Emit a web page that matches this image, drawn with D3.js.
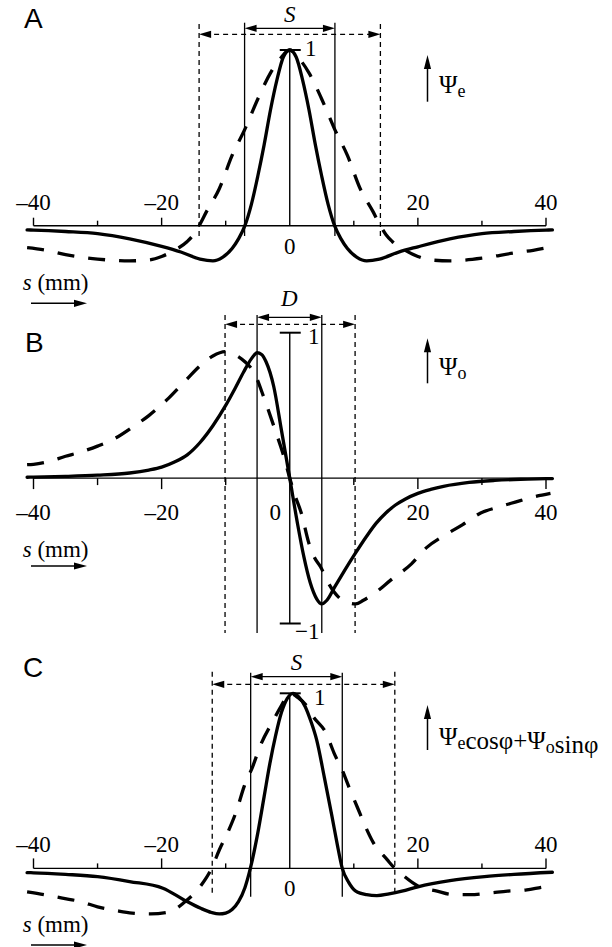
<!DOCTYPE html>
<html><head><meta charset="utf-8">
<script src="https://cdn.jsdelivr.net/npm/d3@7"></script>
<style>body{margin:0;background:#fff}svg{display:block}</style>
</head><body>
<script>
// ---------- data (s in mm, normalized response) ----------
const majorTicks = [-40, -20, 20, 40];
const tickLabels = ["\u201340", "\u201320", "20", "40"];
const minorTicks = [-30, -10, 10, 30];

// Panel A : even-symmetric
const aSolidS = [-41,-40,-35,-30,-25,-20,-17,-14,-12,-10.5,-9,-8,-7,-6,-5,-4,-3,-2,-1,0,1,2,3,4,5,6,7,8,9,10.5,12,14,17,20,25,30,35,40,41];
const aSolidV = [-0.024,-0.025,-0.033,-0.045,-0.075,-0.118,-0.15,-0.19,-0.2,-0.18,-0.13,-0.075,0,0.12,0.28,0.46,0.66,0.83,0.96,1,0.96,0.83,0.66,0.46,0.28,0.12,0,-0.075,-0.13,-0.18,-0.2,-0.19,-0.15,-0.12,-0.075,-0.045,-0.033,-0.025,-0.024];
const aDashS = [-41,-38,-35,-30,-25,-22,-20,-18,-16,-15,-14.15,-13,-11,-9,-7,-5,-3,-1.5,0,1.5,3,5,7,9,11,13,14.15,15,16,18,20,22,25,30,35,38,41];
const aDashV = [-0.125,-0.14,-0.165,-0.19,-0.2,-0.195,-0.175,-0.14,-0.09,-0.05,0,0.08,0.21,0.4,0.55,0.72,0.87,0.95,1,0.95,0.87,0.72,0.55,0.4,0.21,0.08,0,-0.05,-0.09,-0.14,-0.175,-0.195,-0.2,-0.185,-0.155,-0.14,-0.12];
const aSolidMarks = [-7.05, 7.05];
const aDashMarks = [-14.15, 14.15];

// Panel B : odd-symmetric
const bSolidS = [-41,-40,-35,-30,-25,-22,-20,-18,-16,-14,-12,-10,-8.5,-7.2,-6,-5.1,-4.4,-3.7,-2.5,-1.3,0,1.2,2.2,3.2,4.2,5,5.8,7,8.5,10.2,12,13.5,15,16.5,18,20,22,24,28,32,36,40,41];
const bSolidV = [0.006,0.007,0.012,0.02,0.035,0.055,0.075,0.11,0.16,0.245,0.36,0.5,0.62,0.73,0.82,0.862,0.85,0.8,0.63,0.33,0,-0.31,-0.54,-0.72,-0.83,-0.865,-0.84,-0.75,-0.64,-0.52,-0.4,-0.31,-0.24,-0.185,-0.145,-0.105,-0.078,-0.057,-0.03,-0.016,-0.008,-0.004,-0.003];
const bDashS = [-41,-40,-38,-35,-32.6,-30,-27.4,-24.4,-22,-18.9,-16.5,-13.8,-12,-10.1,-8.6,-7,-5.5,-4,-2.2,-1,0,0.9,1.8,3,3.9,4.8,6,7.9,9,10.3,11.5,13.3,15.8,19,21.3,24.3,27,29.8,32.5,35.2,38,40.7];
const bDashV = [0.092,0.095,0.11,0.15,0.18,0.22,0.27,0.355,0.43,0.55,0.66,0.78,0.84,0.87,0.85,0.8,0.72,0.55,0.32,0.16,0,-0.13,-0.24,-0.45,-0.55,-0.61,-0.72,-0.83,-0.855,-0.865,-0.84,-0.79,-0.7,-0.59,-0.48,-0.39,-0.32,-0.24,-0.2,-0.165,-0.13,-0.105];
const bSolidMarks = [-5.1, 5.0];
const bDashMarks = [-10.1, 10.2];

// Panel C : mixed phase
const cSolidS = [-41,-40,-35,-30,-25,-19.8,-16.5,-13.9,-12.2,-11,-10,-9,-8,-7,-6.15,-5,-4,-3.1,-2.2,-1.3,-0.4,0.5,1.4,2.4,3.3,4.2,5.4,6.6,7.4,8.2,9.2,10.3,12,13.6,15.5,17.5,20,25,30.4,35,41];
const cSolidV = [-0.024,-0.025,-0.034,-0.047,-0.075,-0.113,-0.18,-0.228,-0.252,-0.26,-0.255,-0.235,-0.19,-0.11,0,0.2,0.41,0.6,0.76,0.89,0.97,1,0.98,0.925,0.84,0.734,0.52,0.296,0.14,0,-0.08,-0.13,-0.15,-0.155,-0.145,-0.13,-0.105,-0.07,-0.047,-0.034,-0.022];
const cDashS = [-41,-38,-35.5,-32.6,-30,-27.2,-24.6,-21.7,-18.9,-16.5,-13.8,-12.2,-11,-9.5,-8.3,-7.1,-5.8,-4.6,-2.5,-1.3,0,1.3,2.7,3.6,5.7,6.9,8.2,9.4,10.6,11.8,13,15.2,16.4,17.6,20,23,25.5,28.2,31.3,34,37,39.5,41];
const cDashV = [-0.134,-0.152,-0.17,-0.19,-0.22,-0.24,-0.255,-0.26,-0.25,-0.195,-0.095,0,0.105,0.22,0.33,0.47,0.58,0.7,0.85,0.93,1,0.975,0.925,0.87,0.77,0.66,0.56,0.45,0.345,0.24,0.15,0.05,0,-0.037,-0.1,-0.13,-0.15,-0.15,-0.14,-0.13,-0.123,-0.107,-0.1];
const cSolidMarks = [-6.1, 8.2];
const cDashMarks = [-12.1, 16.4];

// ---------- drawing ----------
const W = 612, H = 947;
const svg = d3.select("body").append("svg").attr("width", W).attr("height", H);
const x = d3.scaleLinear().domain([-40, 40]).range([33.5, 546]);
const serif = "Liberation Serif, Times New Roman, serif";
const sans = "Liberation Sans, Arial, sans-serif";

function head(g, tx, ty, dir, len = 12, hw = 3.6) {
  let p;
  if (dir === "left") p = [[tx, ty], [tx + len, ty - hw], [tx + len, ty + hw]];
  else if (dir === "right") p = [[tx, ty], [tx - len, ty - hw], [tx - len, ty + hw]];
  else p = [[tx, ty], [tx - hw, ty + len], [tx + hw, ty + len]];
  g.append("path").attr("d", "M" + p.map(d => d.join(",")).join("L") + "Z").attr("fill", "#000");
}

function zip(s, v) { return s.map((d, i) => [d, v[i]]); }

const panels = [
  { letter: "A", y: d3.scaleLinear([0, 1], [225.7, 50]), yTop: 1, yBot: 0, tickDir: -1, major: 8, minor: 5,
    labelBase: 210, zeroDx: 0, zeroBase: 253.5, solid: zip(aSolidS, aSolidV), dash: zip(aDashS, aDashV),
    mS: aSolidMarks, mD: aDashMarks, topS: 22.7, topD: 24, botS: 236, botD: 237, arrS: 28.3, arrD: 34.3,
    sym: "S", symBase: 22, ones: [{t: "1", x: 305, b: 56}], bars: [1],
    psi: [101.7, 55], psiBase: 93.3, psiParts: [["\u03A8", 0], ["e", 1]],
    sBase: 290, sArrow: 303.3, letterBase: 28, letterX: 24 },
  { letter: "B", y: d3.scaleLinear([-1, 1], [623.5, 332.7]), yTop: 1, yBot: -1, tickDir: 1, major: 11, minor: 7,
    labelBase: 520, zeroDx: -14.5, zeroBase: 520, solid: zip(bSolidS, bSolidV), dash: zip(bDashS, bDashV),
    mS: bSolidMarks, mD: bDashMarks, topS: 315, topD: 315, botS: 633, botD: 633, arrS: 317.3, arrD: 324.3,
    sym: "D", symBase: 306, ones: [{t: "1", x: 308, b: 343.5}, {t: "\u22121", x: 295, b: 639}], bars: [1, -1],
    psi: [383.3, 338.3], psiBase: 375, psiParts: [["\u03A8", 0], ["o", 1]],
    sBase: 557, sArrow: 566, letterBase: 352, letterX: 25 },
  { letter: "C", y: d3.scaleLinear([0, 1], [868.4, 693.3]), yTop: 1, yBot: 0, tickDir: -1, major: 10, minor: 5,
    labelBase: 851.5, zeroDx: 0, zeroBase: 895.5, solid: zip(cSolidS, cSolidV), dash: zip(cDashS, cDashV),
    mS: cSolidMarks, mD: cDashMarks, topS: 672.7, topD: 671.7, botS: 896.7, botD: 895.5, arrS: 676.7, arrD: 684.3,
    sym: "S", symBase: 670, ones: [{t: "1", x: 314, b: 705}], bars: [1],
    psi: [750, 705], psiBase: 745, psiParts: [["\u03A8", 0], ["e", 1], ["cos\u03C6+\u03A8", 0], ["o", 1], ["sin\u03C6", 0]],
    sBase: 931.7, sArrow: 945, letterBase: 677, letterX: 23 }
];

panels.forEach(P => {
  const g = svg.append("g");
  const y = P.y, y0 = y(0);

  // horizontal axis
  g.append("line").attr("x1", x(-40)).attr("x2", x(40)).attr("y1", y0).attr("y2", y0)
    .attr("stroke", "#000").attr("stroke-width", 1.4);
  majorTicks.forEach(t => g.append("line").attr("x1", x(t)).attr("x2", x(t)).attr("y1", y0).attr("y2", y0 + P.tickDir * P.major)
    .attr("stroke", "#000").attr("stroke-width", 1.4));
  minorTicks.forEach(t => g.append("line").attr("x1", x(t)).attr("x2", x(t)).attr("y1", y0).attr("y2", y0 + P.tickDir * P.minor)
    .attr("stroke", "#000").attr("stroke-width", 1.4));
  majorTicks.forEach((t, i) => g.append("text").attr("x", x(t)).attr("y", P.labelBase).attr("text-anchor", "middle")
    .style("font-family", serif).attr("font-size", 23).text(tickLabels[i]));
  g.append("text").attr("x", x(0) + P.zeroDx).attr("y", P.zeroBase).attr("text-anchor", "middle")
    .style("font-family", serif).attr("font-size", 23).text("0");

  // central vertical axis with end bars
  g.append("line").attr("x1", x(0)).attr("x2", x(0)).attr("y1", y(P.yTop)).attr("y2", y(P.yBot))
    .attr("stroke", "#000").attr("stroke-width", 1.4);
  P.bars.forEach(b => g.append("line").attr("x1", x(0) - 10).attr("x2", x(0) + 11).attr("y1", y(b)).attr("y2", y(b))
    .attr("stroke", "#000").attr("stroke-width", 2));
  P.ones.forEach(o => g.append("text").attr("x", o.x).attr("y", o.b).style("font-family", serif)
    .attr("font-size", 23).text(o.t));

  // marker vertical lines
  P.mS.forEach(m => g.append("line").attr("x1", x(m)).attr("x2", x(m)).attr("y1", P.topS).attr("y2", P.botS)
    .attr("stroke", "#000").attr("stroke-width", 1.3));
  P.mD.forEach(m => g.append("line").attr("x1", x(m)).attr("x2", x(m)).attr("y1", P.topD).attr("y2", P.botD)
    .attr("stroke", "#000").attr("stroke-width", 1.3).attr("stroke-dasharray", "5,4"));
  // width arrows
  g.append("line").attr("x1", x(P.mS[0]) + 6).attr("x2", x(P.mS[1]) - 6).attr("y1", P.arrS).attr("y2", P.arrS)
    .attr("stroke", "#000").attr("stroke-width", 1.3);
  head(g, x(P.mS[0]), P.arrS, "left"); head(g, x(P.mS[1]), P.arrS, "right");
  g.append("line").attr("x1", x(P.mD[0]) + 6).attr("x2", x(P.mD[1]) - 6).attr("y1", P.arrD).attr("y2", P.arrD)
    .attr("stroke", "#000").attr("stroke-width", 1.3).attr("stroke-dasharray", "5,4");
  head(g, x(P.mD[0]), P.arrD, "left"); head(g, x(P.mD[1]), P.arrD, "right");
  g.append("text").attr("x", (x(P.mS[0]) + x(P.mS[1])) / 2).attr("y", P.symBase)
    .attr("text-anchor", "middle").style("font-family", serif).attr("font-style", "italic").attr("font-size", 23).text(P.sym);

  // curves
  const line = d3.line().x(d => x(d[0])).y(d => y(d[1])).curve(d3.curveMonotoneX);
  g.append("path").attr("d", line(P.dash)).attr("fill", "none").attr("stroke", "#000")
    .attr("stroke-width", 3.3).attr("stroke-dasharray", "17,14");
  g.append("path").attr("d", line(P.solid)).attr("fill", "none").attr("stroke", "#000")
    .attr("stroke-width", 3.3).attr("stroke-linecap", "round");

  // psi label
  g.append("line").attr("x1", 427.5).attr("x2", 427.5).attr("y1", P.psi[0]).attr("y2", P.psi[1] + 8)
    .attr("stroke", "#000").attr("stroke-width", 1.5);
  head(g, 427.5, P.psi[1], "up", 14, 3.6);
  const t = g.append("text").attr("x", 439).attr("y", P.psiBase).style("font-family", serif).attr("font-size", 25);
  P.psiParts.forEach(([s, sub]) => {
    t.append("tspan").attr("font-size", sub ? 18 : 25).attr("dy", sub ? 4 : 0).text(s);
    if (sub) t.append("tspan").attr("dy", -4).text("");
  });

  // s (mm) label
  const st = g.append("text").attr("x", 22.7).attr("y", P.sBase).style("font-family", serif).attr("font-size", 23);
  st.append("tspan").attr("font-style", "italic").text("s");
  st.append("tspan").text(" (mm)");
  g.append("line").attr("x1", 31).attr("x2", 78).attr("y1", P.sArrow).attr("y2", P.sArrow)
    .attr("stroke", "#000").attr("stroke-width", 1.5);
  head(g, 87, P.sArrow, "right", 13, 3.6);

  // panel letter
  g.append("text").attr("x", P.letterX).attr("y", P.letterBase).style("font-family", sans).attr("font-size", 28).text(P.letter);
});
</script>
</body></html>
